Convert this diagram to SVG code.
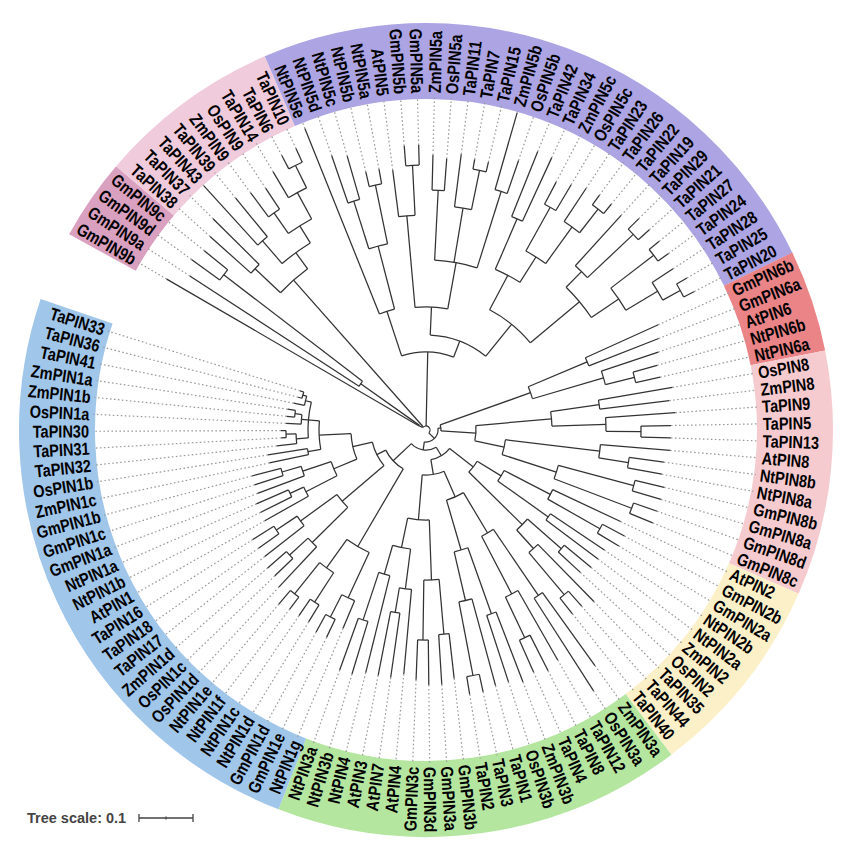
<svg xmlns="http://www.w3.org/2000/svg" width="851" height="851" viewBox="0 0 851 851">
<style>
.t{fill:none;stroke:#333;stroke-width:1.25}
.d{stroke:#999;stroke-width:1.2;stroke-dasharray:1.6 2.4}
.b{fill:none;stroke-width:76}
#labels text{font-family:"Liberation Sans",Arial,sans-serif;font-weight:bold;font-size:17.5px;fill:#000}
.l{text-anchor:end}
</style>
<rect width="851" height="851" fill="#fff"/>
<g transform="translate(426 430) rotate(210.2)">
<g id="bands">
<circle class="b" r="369" pathLength="360" stroke="#daa0c0" stroke-dasharray="11.67 999" transform="rotate(-1.46)"/>
<circle class="b" r="369" pathLength="360" stroke="#efcbdb" stroke-dasharray="26.25 999" transform="rotate(10.21)"/>
<circle class="b" r="369" pathLength="360" stroke="#aca4e3" stroke-dasharray="87.5 999" transform="rotate(36.46)"/>
<circle class="b" r="369" pathLength="360" stroke="#ea8487" stroke-dasharray="14.58 999" transform="rotate(123.96)"/>
<circle class="b" r="369" pathLength="360" stroke="#f6cbcf" stroke-dasharray="35 999" transform="rotate(138.54)"/>
<circle class="b" r="369" pathLength="360" stroke="#fcf0c8" stroke-dasharray="29.17 999" transform="rotate(173.54)"/>
<circle class="b" r="369" pathLength="360" stroke="#b5e6a0" stroke-dasharray="58.33 999" transform="rotate(202.71)"/>
<circle class="b" r="369" pathLength="360" stroke="#a0c6ea" stroke-dasharray="87.5 999" transform="rotate(261.04)"/>
</g>
<g id="connectors">
<g id="leaf-lines" class="d">
<line x1="300" x2="333" transform="rotate(0)"/>
<line x1="282" x2="333" transform="rotate(2.92)"/>
<line x1="290" x2="333" transform="rotate(5.83)"/>
<line x1="285" x2="333" transform="rotate(8.75)"/>
<line x1="290" x2="333" transform="rotate(11.67)"/>
<line x1="300" x2="333" transform="rotate(14.58)"/>
<line x1="330" x2="333" transform="rotate(17.5)"/>
<line x1="300" x2="333" transform="rotate(20.42)"/>
<line x1="295" x2="333" transform="rotate(23.33)"/>
<line x1="290" x2="333" transform="rotate(26.25)"/>
<line x1="300" x2="333" transform="rotate(29.17)"/>
<line x1="310" x2="333" transform="rotate(32.08)"/>
<line x1="310" x2="333" transform="rotate(35)"/>
<line x1="325" x2="333" transform="rotate(37.92)"/>
<line x1="290" x2="333" transform="rotate(40.83)"/>
<line x1="285" x2="333" transform="rotate(43.75)"/>
<line x1="265" x2="333" transform="rotate(46.67)"/>
<line x1="265" x2="333" transform="rotate(49.58)"/>
<line x1="262" x2="333" transform="rotate(52.5)"/>
<line x1="285" x2="333" transform="rotate(55.42)"/>
<line x1="285" x2="333" transform="rotate(58.33)"/>
<line x1="275" x2="333" transform="rotate(61.25)"/>
<line x1="272" x2="333" transform="rotate(64.17)"/>
<line x1="278" x2="333" transform="rotate(67.08)"/>
<line x1="275" x2="333" transform="rotate(70)"/>
<line x1="275" x2="333" transform="rotate(72.92)"/>
<line x1="330" x2="333" transform="rotate(75.83)"/>
<line x1="285" x2="333" transform="rotate(78.75)"/>
<line x1="300" x2="333" transform="rotate(81.67)"/>
<line x1="300" x2="333" transform="rotate(84.58)"/>
<line x1="280" x2="333" transform="rotate(87.5)"/>
<line x1="285" x2="333" transform="rotate(90.42)"/>
<line x1="290" x2="333" transform="rotate(93.33)"/>
<line x1="292" x2="333" transform="rotate(96.25)"/>
<line x1="292" x2="333" transform="rotate(99.17)"/>
<line x1="290" x2="333" transform="rotate(102.08)"/>
<line x1="300" x2="333" transform="rotate(105)"/>
<line x1="300" x2="333" transform="rotate(107.92)"/>
<line x1="300" x2="333" transform="rotate(110.83)"/>
<line x1="300" x2="333" transform="rotate(113.75)"/>
<line x1="295" x2="333" transform="rotate(116.67)"/>
<line x1="302" x2="333" transform="rotate(119.58)"/>
<line x1="302" x2="333" transform="rotate(122.5)"/>
<line x1="255" x2="333" transform="rotate(125.42)"/>
<line x1="250" x2="333" transform="rotate(128.33)"/>
<line x1="245" x2="333" transform="rotate(131.25)"/>
<line x1="240" x2="333" transform="rotate(134.17)"/>
<line x1="240" x2="333" transform="rotate(137.08)"/>
<line x1="250" x2="333" transform="rotate(140)"/>
<line x1="245" x2="333" transform="rotate(142.92)"/>
<line x1="250" x2="333" transform="rotate(145.83)"/>
<line x1="245" x2="333" transform="rotate(148.75)"/>
<line x1="245" x2="333" transform="rotate(151.67)"/>
<line x1="245" x2="333" transform="rotate(154.58)"/>
<line x1="240" x2="333" transform="rotate(157.5)"/>
<line x1="240" x2="333" transform="rotate(160.42)"/>
<line x1="245" x2="333" transform="rotate(163.33)"/>
<line x1="245" x2="333" transform="rotate(166.25)"/>
<line x1="245" x2="333" transform="rotate(169.17)"/>
<line x1="245" x2="333" transform="rotate(172.08)"/>
<line x1="215" x2="333" transform="rotate(175)"/>
<line x1="225" x2="333" transform="rotate(177.92)"/>
<line x1="225" x2="333" transform="rotate(180.83)"/>
<line x1="215" x2="333" transform="rotate(183.75)"/>
<line x1="215" x2="333" transform="rotate(186.67)"/>
<line x1="215" x2="333" transform="rotate(189.58)"/>
<line x1="210" x2="333" transform="rotate(192.5)"/>
<line x1="240" x2="333" transform="rotate(195.42)"/>
<line x1="235" x2="333" transform="rotate(198.33)"/>
<line x1="235" x2="333" transform="rotate(201.25)"/>
<line x1="290" x2="333" transform="rotate(204.17)"/>
<line x1="310" x2="333" transform="rotate(207.08)"/>
<line x1="265" x2="333" transform="rotate(210)"/>
<line x1="270" x2="333" transform="rotate(212.92)"/>
<line x1="265" x2="333" transform="rotate(215.83)"/>
<line x1="270" x2="333" transform="rotate(218.75)"/>
<line x1="265" x2="333" transform="rotate(221.67)"/>
<line x1="265" x2="333" transform="rotate(224.58)"/>
<line x1="268" x2="333" transform="rotate(227.5)"/>
<line x1="268" x2="333" transform="rotate(230.42)"/>
<line x1="250" x2="333" transform="rotate(233.33)"/>
<line x1="255" x2="333" transform="rotate(236.25)"/>
<line x1="255" x2="333" transform="rotate(239.17)"/>
<line x1="250" x2="333" transform="rotate(242.08)"/>
<line x1="245" x2="333" transform="rotate(245)"/>
<line x1="250" x2="333" transform="rotate(247.92)"/>
<line x1="250" x2="333" transform="rotate(250.83)"/>
<line x1="250" x2="333" transform="rotate(253.75)"/>
<line x1="255" x2="333" transform="rotate(256.67)"/>
<line x1="255" x2="333" transform="rotate(259.58)"/>
<line x1="215" x2="333" transform="rotate(262.5)"/>
<line x1="230" x2="333" transform="rotate(265.42)"/>
<line x1="230" x2="333" transform="rotate(268.33)"/>
<line x1="225" x2="333" transform="rotate(271.25)"/>
<line x1="225" x2="333" transform="rotate(274.17)"/>
<line x1="225" x2="333" transform="rotate(277.08)"/>
<line x1="228" x2="333" transform="rotate(280)"/>
<line x1="215" x2="333" transform="rotate(282.92)"/>
<line x1="210" x2="333" transform="rotate(285.83)"/>
<line x1="210" x2="333" transform="rotate(288.75)"/>
<line x1="205" x2="333" transform="rotate(291.67)"/>
<line x1="205" x2="333" transform="rotate(294.58)"/>
<line x1="205" x2="333" transform="rotate(297.5)"/>
<line x1="185" x2="333" transform="rotate(300.42)"/>
<line x1="185" x2="333" transform="rotate(303.33)"/>
<line x1="185" x2="333" transform="rotate(306.25)"/>
<line x1="180" x2="333" transform="rotate(309.17)"/>
<line x1="180" x2="333" transform="rotate(312.08)"/>
<line x1="180" x2="333" transform="rotate(315)"/>
<line x1="160" x2="333" transform="rotate(317.92)"/>
<line x1="160" x2="333" transform="rotate(320.83)"/>
<line x1="150" x2="333" transform="rotate(323.75)"/>
<line x1="145" x2="333" transform="rotate(326.67)"/>
<line x1="145" x2="333" transform="rotate(329.58)"/>
<line x1="140" x2="333" transform="rotate(332.5)"/>
<line x1="140" x2="333" transform="rotate(335.42)"/>
<line x1="140" x2="333" transform="rotate(338.33)"/>
<line x1="135" x2="333" transform="rotate(341.25)"/>
<line x1="132" x2="333" transform="rotate(344.17)"/>
<line x1="132" x2="333" transform="rotate(347.08)"/>
</g>
<g id="branches" class="t">
<circle r="255" pathLength="360" stroke-dasharray="2.92 999" transform="rotate(5.83)"/>
<circle r="80" pathLength="360" stroke-dasharray="4.37 999" transform="rotate(2.92)"/>
<circle r="8" pathLength="360" stroke-dasharray="5.1 999" transform="rotate(0)"/>
<circle r="235" pathLength="360" stroke-dasharray="2.91 999" transform="rotate(11.67)"/>
<circle r="250" pathLength="360" stroke-dasharray="2.92 999" transform="rotate(17.5)"/>
<circle r="265" pathLength="360" stroke-dasharray="2.92 999" transform="rotate(23.33)"/>
<circle r="295" pathLength="360" stroke-dasharray="2.92 999" transform="rotate(32.08)"/>
<circle r="270" pathLength="360" stroke-dasharray="4.37 999" transform="rotate(29.17)"/>
<circle r="240" pathLength="360" stroke-dasharray="6.56 999" transform="rotate(24.79)"/>
<circle r="220" pathLength="360" stroke-dasharray="9.11 999" transform="rotate(18.96)"/>
<circle r="200" pathLength="360" stroke-dasharray="10.38 999" transform="rotate(13.13)"/>
<circle r="5" pathLength="360" stroke-dasharray="15.77 999" transform="rotate(2.55)"/>
<circle r="240" pathLength="360" stroke-dasharray="2.92 999" transform="rotate(40.83)"/>
<circle r="250" pathLength="360" stroke-dasharray="2.91 999" transform="rotate(46.67)"/>
<circle r="190" pathLength="360" stroke-dasharray="5.84 999" transform="rotate(42.29)"/>
<circle r="125" pathLength="360" stroke-dasharray="7.29 999" transform="rotate(37.92)"/>
<circle r="265" pathLength="360" stroke-dasharray="2.91 999" transform="rotate(55.42)"/>
<circle r="215" pathLength="360" stroke-dasharray="4.38 999" transform="rotate(52.5)"/>
<circle r="240" pathLength="360" stroke-dasharray="2.92 999" transform="rotate(61.25)"/>
<circle r="265" pathLength="360" stroke-dasharray="2.92 999" transform="rotate(70)"/>
<circle r="225" pathLength="360" stroke-dasharray="4.38 999" transform="rotate(67.08)"/>
<circle r="250" pathLength="360" stroke-dasharray="2.92 999" transform="rotate(75.83)"/>
<circle r="170" pathLength="360" stroke-dasharray="14.58 999" transform="rotate(62.71)"/>
<circle r="123" pathLength="360" stroke-dasharray="15.31 999" transform="rotate(54.69)"/>
<circle r="230" pathLength="360" stroke-dasharray="2.91 999" transform="rotate(81.67)"/>
<circle r="255" pathLength="360" stroke-dasharray="2.92 999" transform="rotate(87.5)"/>
<circle r="280" pathLength="360" stroke-dasharray="2.92 999" transform="rotate(96.25)"/>
<circle r="250" pathLength="360" stroke-dasharray="4.38 999" transform="rotate(93.33)"/>
<circle r="205" pathLength="360" stroke-dasharray="6.56 999" transform="rotate(88.96)"/>
<circle r="175" pathLength="360" stroke-dasharray="9.11 999" transform="rotate(83.13)"/>
<circle r="285" pathLength="360" stroke-dasharray="2.92 999" transform="rotate(105)"/>
<circle r="222" pathLength="360" stroke-dasharray="4.38 999" transform="rotate(102.08)"/>
<circle r="287" pathLength="360" stroke-dasharray="2.92 999" transform="rotate(110.83)"/>
<circle r="290" pathLength="360" stroke-dasharray="2.92 999" transform="rotate(119.58)"/>
<circle r="270" pathLength="360" stroke-dasharray="4.37 999" transform="rotate(116.67)"/>
<circle r="233" pathLength="360" stroke-dasharray="6.57 999" transform="rotate(112.29)"/>
<circle r="200" pathLength="360" stroke-dasharray="11.31 999" transform="rotate(104.27)"/>
<circle r="136" pathLength="360" stroke-dasharray="22.24 999" transform="rotate(87.69)"/>
<circle r="95" pathLength="360" stroke-dasharray="36.46 999" transform="rotate(62.35)"/>
<circle r="78" pathLength="360" stroke-dasharray="39.01 999" transform="rotate(41.57)"/>
<circle r="175" pathLength="360" stroke-dasharray="2.91 999" transform="rotate(125.42)"/>
<circle r="215" pathLength="360" stroke-dasharray="2.91 999" transform="rotate(134.17)"/>
<circle r="185" pathLength="360" stroke-dasharray="4.38 999" transform="rotate(131.25)"/>
<circle r="111" pathLength="360" stroke-dasharray="6.56 999" transform="rotate(126.88)"/>
<circle r="175" pathLength="360" stroke-dasharray="2.92 999" transform="rotate(140)"/>
<circle r="215" pathLength="360" stroke-dasharray="2.92 999" transform="rotate(148.75)"/>
<circle r="180" pathLength="360" stroke-dasharray="4.38 999" transform="rotate(145.83)"/>
<circle r="126" pathLength="360" stroke-dasharray="6.56 999" transform="rotate(141.46)"/>
<circle r="205" pathLength="360" stroke-dasharray="2.92 999" transform="rotate(157.5)"/>
<circle r="175" pathLength="360" stroke-dasharray="4.38 999" transform="rotate(154.58)"/>
<circle r="215" pathLength="360" stroke-dasharray="2.92 999" transform="rotate(163.33)"/>
<circle r="220" pathLength="360" stroke-dasharray="2.91 999" transform="rotate(169.17)"/>
<circle r="137" pathLength="360" stroke-dasharray="5.84 999" transform="rotate(164.79)"/>
<circle r="80" pathLength="360" stroke-dasharray="10.94 999" transform="rotate(156.77)"/>
<circle r="50" pathLength="360" stroke-dasharray="17.5 999" transform="rotate(144.74)"/>
<circle r="15" pathLength="360" stroke-dasharray="23.33 999" transform="rotate(130.16)"/>
<circle r="200" pathLength="360" stroke-dasharray="2.91 999" transform="rotate(177.92)"/>
<circle r="140" pathLength="360" stroke-dasharray="4.38 999" transform="rotate(175)"/>
<circle r="150" pathLength="360" stroke-dasharray="2.92 999" transform="rotate(183.75)"/>
<circle r="88" pathLength="360" stroke-dasharray="8.02 999" transform="rotate(177.19)"/>
<circle r="180" pathLength="360" stroke-dasharray="2.92 999" transform="rotate(189.58)"/>
<circle r="215" pathLength="360" stroke-dasharray="2.92 999" transform="rotate(198.33)"/>
<circle r="160" pathLength="360" stroke-dasharray="4.37 999" transform="rotate(195.42)"/>
<circle r="135" pathLength="360" stroke-dasharray="6.56 999" transform="rotate(191.04)"/>
<circle r="60" pathLength="360" stroke-dasharray="13.12 999" transform="rotate(181.2)"/>
<circle r="200" pathLength="360" stroke-dasharray="2.91 999" transform="rotate(204.17)"/>
<circle r="230" pathLength="360" stroke-dasharray="2.91 999" transform="rotate(212.92)"/>
<circle r="185" pathLength="360" stroke-dasharray="4.38 999" transform="rotate(210)"/>
<circle r="120" pathLength="360" stroke-dasharray="6.56 999" transform="rotate(205.63)"/>
<circle r="195" pathLength="360" stroke-dasharray="2.92 999" transform="rotate(218.75)"/>
<circle r="250" pathLength="360" stroke-dasharray="2.92 999" transform="rotate(227.5)"/>
<circle r="175" pathLength="360" stroke-dasharray="4.38 999" transform="rotate(224.58)"/>
<circle r="125" pathLength="360" stroke-dasharray="6.56 999" transform="rotate(220.21)"/>
<circle r="73" pathLength="360" stroke-dasharray="14.58 999" transform="rotate(208.91)"/>
<circle r="205" pathLength="360" stroke-dasharray="2.92 999" transform="rotate(233.33)"/>
<circle r="210" pathLength="360" stroke-dasharray="2.91 999" transform="rotate(239.17)"/>
<circle r="150" pathLength="360" stroke-dasharray="5.84 999" transform="rotate(234.79)"/>
<circle r="185" pathLength="360" stroke-dasharray="2.91 999" transform="rotate(247.92)"/>
<circle r="160" pathLength="360" stroke-dasharray="4.38 999" transform="rotate(245)"/>
<circle r="200" pathLength="360" stroke-dasharray="2.91 999" transform="rotate(256.67)"/>
<circle r="150" pathLength="360" stroke-dasharray="4.38 999" transform="rotate(253.75)"/>
<circle r="120" pathLength="360" stroke-dasharray="8.75 999" transform="rotate(247.19)"/>
<circle r="90" pathLength="360" stroke-dasharray="13.86 999" transform="rotate(237.71)"/>
<circle r="45" pathLength="360" stroke-dasharray="28.44 999" transform="rotate(216.2)"/>
<circle r="30" pathLength="360" stroke-dasharray="42.66 999" transform="rotate(187.76)"/>
<circle r="210" pathLength="360" stroke-dasharray="2.91 999" transform="rotate(265.42)"/>
<circle r="185" pathLength="360" stroke-dasharray="4.38 999" transform="rotate(262.5)"/>
<circle r="205" pathLength="360" stroke-dasharray="2.92 999" transform="rotate(271.25)"/>
<circle r="210" pathLength="360" stroke-dasharray="2.92 999" transform="rotate(277.08)"/>
<circle r="170" pathLength="360" stroke-dasharray="5.83 999" transform="rotate(272.71)"/>
<circle r="135" pathLength="360" stroke-dasharray="10.94 999" transform="rotate(264.69)"/>
<circle r="185" pathLength="360" stroke-dasharray="2.92 999" transform="rotate(285.83)"/>
<circle r="160" pathLength="360" stroke-dasharray="4.37 999" transform="rotate(282.92)"/>
<circle r="180" pathLength="360" stroke-dasharray="2.92 999" transform="rotate(294.58)"/>
<circle r="155" pathLength="360" stroke-dasharray="4.37 999" transform="rotate(291.67)"/>
<circle r="110" pathLength="360" stroke-dasharray="8.75 999" transform="rotate(285.11)"/>
<circle r="150" pathLength="360" stroke-dasharray="2.92 999" transform="rotate(303.33)"/>
<circle r="135" pathLength="360" stroke-dasharray="4.37 999" transform="rotate(300.42)"/>
<circle r="150" pathLength="360" stroke-dasharray="2.92 999" transform="rotate(312.08)"/>
<circle r="130" pathLength="360" stroke-dasharray="4.37 999" transform="rotate(309.17)"/>
<circle r="100" pathLength="360" stroke-dasharray="8.75 999" transform="rotate(302.61)"/>
<circle r="120" pathLength="360" stroke-dasharray="2.91 999" transform="rotate(317.92)"/>
<circle r="140" pathLength="360" stroke-dasharray="2.91 999" transform="rotate(326.67)"/>
<circle r="130" pathLength="360" stroke-dasharray="4.38 999" transform="rotate(323.75)"/>
<circle r="132" pathLength="360" stroke-dasharray="2.91 999" transform="rotate(335.42)"/>
<circle r="125" pathLength="360" stroke-dasharray="4.38 999" transform="rotate(332.5)"/>
<circle r="128" pathLength="360" stroke-dasharray="2.91 999" transform="rotate(344.17)"/>
<circle r="124" pathLength="360" stroke-dasharray="4.38 999" transform="rotate(341.25)"/>
<circle r="118" pathLength="360" stroke-dasharray="17.5 999" transform="rotate(325.94)"/>
<circle r="107" pathLength="360" stroke-dasharray="15.31 999" transform="rotate(319.38)"/>
<circle r="75" pathLength="360" stroke-dasharray="20.05 999" transform="rotate(306.99)"/>
<circle r="55" pathLength="360" stroke-dasharray="27.53 999" transform="rotate(289.49)"/>
<circle r="45" pathLength="360" stroke-dasharray="33.1 999" transform="rotate(270.16)"/>
<circle r="20" pathLength="360" stroke-dasharray="77.62 999" transform="rotate(209.09)"/>
<circle r="12" pathLength="360" stroke-dasharray="106.07 999" transform="rotate(141.83)"/>
<circle r="4" pathLength="360" stroke-dasharray="184.44 999" transform="rotate(10.43)"/>
<line x1="255" x2="290" transform="rotate(5.83)"/>
<line x1="255" x2="285" transform="rotate(8.75)"/>
<line x1="80" x2="282" transform="rotate(2.92)"/>
<line x1="80" x2="255" transform="rotate(7.29)"/>
<line x1="8" x2="300" transform="rotate(0)"/>
<line x1="8" x2="80" transform="rotate(5.1)"/>
<line x1="235" x2="290" transform="rotate(11.67)"/>
<line x1="235" x2="300" transform="rotate(14.58)"/>
<line x1="250" x2="330" transform="rotate(17.5)"/>
<line x1="250" x2="300" transform="rotate(20.42)"/>
<line x1="265" x2="295" transform="rotate(23.33)"/>
<line x1="265" x2="290" transform="rotate(26.25)"/>
<line x1="295" x2="310" transform="rotate(32.08)"/>
<line x1="295" x2="310" transform="rotate(35)"/>
<line x1="270" x2="300" transform="rotate(29.17)"/>
<line x1="270" x2="295" transform="rotate(33.54)"/>
<line x1="240" x2="265" transform="rotate(24.79)"/>
<line x1="240" x2="270" transform="rotate(31.35)"/>
<line x1="220" x2="250" transform="rotate(18.96)"/>
<line x1="220" x2="240" transform="rotate(28.07)"/>
<line x1="200" x2="235" transform="rotate(13.13)"/>
<line x1="200" x2="220" transform="rotate(23.51)"/>
<line x1="5" x2="8" transform="rotate(2.55)"/>
<line x1="5" x2="200" transform="rotate(18.32)"/>
<line x1="240" x2="290" transform="rotate(40.83)"/>
<line x1="240" x2="285" transform="rotate(43.75)"/>
<line x1="250" x2="265" transform="rotate(46.67)"/>
<line x1="250" x2="265" transform="rotate(49.58)"/>
<line x1="190" x2="240" transform="rotate(42.29)"/>
<line x1="190" x2="250" transform="rotate(48.13)"/>
<line x1="125" x2="325" transform="rotate(37.92)"/>
<line x1="125" x2="190" transform="rotate(45.21)"/>
<line x1="265" x2="285" transform="rotate(55.42)"/>
<line x1="265" x2="285" transform="rotate(58.33)"/>
<line x1="215" x2="262" transform="rotate(52.5)"/>
<line x1="215" x2="265" transform="rotate(56.88)"/>
<line x1="240" x2="275" transform="rotate(61.25)"/>
<line x1="240" x2="272" transform="rotate(64.17)"/>
<line x1="265" x2="275" transform="rotate(70)"/>
<line x1="265" x2="275" transform="rotate(72.92)"/>
<line x1="225" x2="278" transform="rotate(67.08)"/>
<line x1="225" x2="265" transform="rotate(71.46)"/>
<line x1="250" x2="330" transform="rotate(75.83)"/>
<line x1="250" x2="285" transform="rotate(78.75)"/>
<line x1="170" x2="240" transform="rotate(62.71)"/>
<line x1="170" x2="225" transform="rotate(69.27)"/>
<line x1="170" x2="250" transform="rotate(77.29)"/>
<line x1="123" x2="215" transform="rotate(54.69)"/>
<line x1="123" x2="170" transform="rotate(70)"/>
<line x1="230" x2="300" transform="rotate(81.67)"/>
<line x1="230" x2="300" transform="rotate(84.58)"/>
<line x1="255" x2="280" transform="rotate(87.5)"/>
<line x1="255" x2="285" transform="rotate(90.42)"/>
<line x1="280" x2="292" transform="rotate(96.25)"/>
<line x1="280" x2="292" transform="rotate(99.17)"/>
<line x1="250" x2="290" transform="rotate(93.33)"/>
<line x1="250" x2="280" transform="rotate(97.71)"/>
<line x1="205" x2="255" transform="rotate(88.96)"/>
<line x1="205" x2="250" transform="rotate(95.52)"/>
<line x1="175" x2="230" transform="rotate(83.13)"/>
<line x1="175" x2="205" transform="rotate(92.24)"/>
<line x1="285" x2="300" transform="rotate(105)"/>
<line x1="285" x2="300" transform="rotate(107.92)"/>
<line x1="222" x2="290" transform="rotate(102.08)"/>
<line x1="222" x2="285" transform="rotate(106.46)"/>
<line x1="287" x2="300" transform="rotate(110.83)"/>
<line x1="287" x2="300" transform="rotate(113.75)"/>
<line x1="290" x2="302" transform="rotate(119.58)"/>
<line x1="290" x2="302" transform="rotate(122.5)"/>
<line x1="270" x2="295" transform="rotate(116.67)"/>
<line x1="270" x2="290" transform="rotate(121.04)"/>
<line x1="233" x2="287" transform="rotate(112.29)"/>
<line x1="233" x2="270" transform="rotate(118.86)"/>
<line x1="200" x2="222" transform="rotate(104.27)"/>
<line x1="200" x2="233" transform="rotate(115.58)"/>
<line x1="136" x2="175" transform="rotate(87.69)"/>
<line x1="136" x2="200" transform="rotate(109.93)"/>
<line x1="95" x2="123" transform="rotate(62.35)"/>
<line x1="95" x2="136" transform="rotate(98.81)"/>
<line x1="78" x2="125" transform="rotate(41.57)"/>
<line x1="78" x2="95" transform="rotate(80.58)"/>
<line x1="175" x2="255" transform="rotate(125.42)"/>
<line x1="175" x2="250" transform="rotate(128.33)"/>
<line x1="215" x2="240" transform="rotate(134.17)"/>
<line x1="215" x2="240" transform="rotate(137.08)"/>
<line x1="185" x2="245" transform="rotate(131.25)"/>
<line x1="185" x2="215" transform="rotate(135.63)"/>
<line x1="111" x2="175" transform="rotate(126.88)"/>
<line x1="111" x2="185" transform="rotate(133.44)"/>
<line x1="175" x2="250" transform="rotate(140)"/>
<line x1="175" x2="245" transform="rotate(142.92)"/>
<line x1="215" x2="245" transform="rotate(148.75)"/>
<line x1="215" x2="245" transform="rotate(151.67)"/>
<line x1="180" x2="250" transform="rotate(145.83)"/>
<line x1="180" x2="215" transform="rotate(150.21)"/>
<line x1="126" x2="175" transform="rotate(141.46)"/>
<line x1="126" x2="180" transform="rotate(148.02)"/>
<line x1="205" x2="240" transform="rotate(157.5)"/>
<line x1="205" x2="240" transform="rotate(160.42)"/>
<line x1="175" x2="245" transform="rotate(154.58)"/>
<line x1="175" x2="205" transform="rotate(158.96)"/>
<line x1="215" x2="245" transform="rotate(163.33)"/>
<line x1="215" x2="245" transform="rotate(166.25)"/>
<line x1="220" x2="245" transform="rotate(169.17)"/>
<line x1="220" x2="245" transform="rotate(172.08)"/>
<line x1="137" x2="215" transform="rotate(164.79)"/>
<line x1="137" x2="220" transform="rotate(170.63)"/>
<line x1="80" x2="175" transform="rotate(156.77)"/>
<line x1="80" x2="137" transform="rotate(167.71)"/>
<line x1="50" x2="126" transform="rotate(144.74)"/>
<line x1="50" x2="80" transform="rotate(162.24)"/>
<line x1="15" x2="111" transform="rotate(130.16)"/>
<line x1="15" x2="50" transform="rotate(153.49)"/>
<line x1="200" x2="225" transform="rotate(177.92)"/>
<line x1="200" x2="225" transform="rotate(180.83)"/>
<line x1="140" x2="215" transform="rotate(175)"/>
<line x1="140" x2="200" transform="rotate(179.38)"/>
<line x1="150" x2="215" transform="rotate(183.75)"/>
<line x1="150" x2="215" transform="rotate(186.67)"/>
<line x1="88" x2="140" transform="rotate(177.19)"/>
<line x1="88" x2="150" transform="rotate(185.21)"/>
<line x1="180" x2="215" transform="rotate(189.58)"/>
<line x1="180" x2="210" transform="rotate(192.5)"/>
<line x1="215" x2="235" transform="rotate(198.33)"/>
<line x1="215" x2="235" transform="rotate(201.25)"/>
<line x1="160" x2="240" transform="rotate(195.42)"/>
<line x1="160" x2="215" transform="rotate(199.79)"/>
<line x1="135" x2="180" transform="rotate(191.04)"/>
<line x1="135" x2="160" transform="rotate(197.6)"/>
<line x1="60" x2="88" transform="rotate(181.2)"/>
<line x1="60" x2="135" transform="rotate(194.32)"/>
<line x1="200" x2="290" transform="rotate(204.17)"/>
<line x1="200" x2="310" transform="rotate(207.08)"/>
<line x1="230" x2="270" transform="rotate(212.92)"/>
<line x1="230" x2="265" transform="rotate(215.83)"/>
<line x1="185" x2="265" transform="rotate(210)"/>
<line x1="185" x2="230" transform="rotate(214.38)"/>
<line x1="120" x2="200" transform="rotate(205.63)"/>
<line x1="120" x2="185" transform="rotate(212.19)"/>
<line x1="195" x2="270" transform="rotate(218.75)"/>
<line x1="195" x2="265" transform="rotate(221.67)"/>
<line x1="250" x2="268" transform="rotate(227.5)"/>
<line x1="250" x2="268" transform="rotate(230.42)"/>
<line x1="175" x2="265" transform="rotate(224.58)"/>
<line x1="175" x2="250" transform="rotate(228.96)"/>
<line x1="125" x2="195" transform="rotate(220.21)"/>
<line x1="125" x2="175" transform="rotate(226.77)"/>
<line x1="73" x2="120" transform="rotate(208.91)"/>
<line x1="73" x2="125" transform="rotate(223.49)"/>
<line x1="205" x2="250" transform="rotate(233.33)"/>
<line x1="205" x2="255" transform="rotate(236.25)"/>
<line x1="210" x2="255" transform="rotate(239.17)"/>
<line x1="210" x2="250" transform="rotate(242.08)"/>
<line x1="150" x2="205" transform="rotate(234.79)"/>
<line x1="150" x2="210" transform="rotate(240.63)"/>
<line x1="185" x2="250" transform="rotate(247.92)"/>
<line x1="185" x2="250" transform="rotate(250.83)"/>
<line x1="160" x2="245" transform="rotate(245)"/>
<line x1="160" x2="185" transform="rotate(249.38)"/>
<line x1="200" x2="255" transform="rotate(256.67)"/>
<line x1="200" x2="255" transform="rotate(259.58)"/>
<line x1="150" x2="250" transform="rotate(253.75)"/>
<line x1="150" x2="200" transform="rotate(258.13)"/>
<line x1="120" x2="160" transform="rotate(247.19)"/>
<line x1="120" x2="150" transform="rotate(255.94)"/>
<line x1="90" x2="150" transform="rotate(237.71)"/>
<line x1="90" x2="120" transform="rotate(251.57)"/>
<line x1="45" x2="73" transform="rotate(216.2)"/>
<line x1="45" x2="90" transform="rotate(244.64)"/>
<line x1="30" x2="60" transform="rotate(187.76)"/>
<line x1="30" x2="45" transform="rotate(230.42)"/>
<line x1="210" x2="230" transform="rotate(265.42)"/>
<line x1="210" x2="230" transform="rotate(268.33)"/>
<line x1="185" x2="215" transform="rotate(262.5)"/>
<line x1="185" x2="210" transform="rotate(266.88)"/>
<line x1="205" x2="225" transform="rotate(271.25)"/>
<line x1="205" x2="225" transform="rotate(274.17)"/>
<line x1="210" x2="225" transform="rotate(277.08)"/>
<line x1="210" x2="228" transform="rotate(280)"/>
<line x1="170" x2="205" transform="rotate(272.71)"/>
<line x1="170" x2="210" transform="rotate(278.54)"/>
<line x1="135" x2="185" transform="rotate(264.69)"/>
<line x1="135" x2="170" transform="rotate(275.63)"/>
<line x1="185" x2="210" transform="rotate(285.83)"/>
<line x1="185" x2="210" transform="rotate(288.75)"/>
<line x1="160" x2="215" transform="rotate(282.92)"/>
<line x1="160" x2="185" transform="rotate(287.29)"/>
<line x1="180" x2="205" transform="rotate(294.58)"/>
<line x1="180" x2="205" transform="rotate(297.5)"/>
<line x1="155" x2="205" transform="rotate(291.67)"/>
<line x1="155" x2="180" transform="rotate(296.04)"/>
<line x1="110" x2="160" transform="rotate(285.11)"/>
<line x1="110" x2="155" transform="rotate(293.86)"/>
<line x1="150" x2="185" transform="rotate(303.33)"/>
<line x1="150" x2="185" transform="rotate(306.25)"/>
<line x1="135" x2="185" transform="rotate(300.42)"/>
<line x1="135" x2="150" transform="rotate(304.79)"/>
<line x1="150" x2="180" transform="rotate(312.08)"/>
<line x1="150" x2="180" transform="rotate(315)"/>
<line x1="130" x2="180" transform="rotate(309.17)"/>
<line x1="130" x2="150" transform="rotate(313.54)"/>
<line x1="100" x2="135" transform="rotate(302.61)"/>
<line x1="100" x2="130" transform="rotate(311.36)"/>
<line x1="120" x2="160" transform="rotate(317.92)"/>
<line x1="120" x2="160" transform="rotate(320.83)"/>
<line x1="140" x2="145" transform="rotate(326.67)"/>
<line x1="140" x2="145" transform="rotate(329.58)"/>
<line x1="130" x2="150" transform="rotate(323.75)"/>
<line x1="130" x2="140" transform="rotate(328.13)"/>
<line x1="132" x2="140" transform="rotate(335.42)"/>
<line x1="132" x2="140" transform="rotate(338.33)"/>
<line x1="125" x2="140" transform="rotate(332.5)"/>
<line x1="125" x2="132" transform="rotate(336.88)"/>
<line x1="128" x2="132" transform="rotate(344.17)"/>
<line x1="128" x2="132" transform="rotate(347.08)"/>
<line x1="124" x2="135" transform="rotate(341.25)"/>
<line x1="124" x2="128" transform="rotate(345.63)"/>
<line x1="118" x2="130" transform="rotate(325.94)"/>
<line x1="107" x2="125" transform="rotate(334.69)"/>
<line x1="118" x2="124" transform="rotate(343.44)"/>
<line x1="107" x2="120" transform="rotate(319.38)"/>
<line x1="75" x2="100" transform="rotate(306.99)"/>
<line x1="75" x2="107" transform="rotate(327.04)"/>
<line x1="55" x2="110" transform="rotate(289.49)"/>
<line x1="55" x2="75" transform="rotate(317.02)"/>
<line x1="45" x2="135" transform="rotate(270.16)"/>
<line x1="45" x2="55" transform="rotate(303.26)"/>
<line x1="20" x2="30" transform="rotate(209.09)"/>
<line x1="20" x2="45" transform="rotate(286.71)"/>
<line x1="12" x2="15" transform="rotate(141.83)"/>
<line x1="12" x2="20" transform="rotate(247.9)"/>
<line x1="4" x2="5" transform="rotate(10.43)"/>
<line x1="4" x2="78" transform="rotate(61.08)"/>
<line x1="4" x2="12" transform="rotate(194.87)"/>
</g>
</g>
<g id="labels">
<g id="GmPIN9b"><text class="l" dy=".35em" transform="rotate(0) translate(337 0) rotate(180) scale(.83 1)">GmPIN9b</text></g>
<g id="GmPIN9a"><text class="l" dy=".35em" transform="rotate(2.92) translate(337 0) rotate(180) scale(.83 1)">GmPIN9a</text></g>
<g id="GmPIN9d"><text class="l" dy=".35em" transform="rotate(5.83) translate(337 0) rotate(180) scale(.83 1)">GmPIN9d</text></g>
<g id="GmPIN9c"><text class="l" dy=".35em" transform="rotate(8.75) translate(337 0) rotate(180) scale(.83 1)">GmPIN9c</text></g>
<g id="TaPIN38"><text class="l" dy=".35em" transform="rotate(11.67) translate(337 0) rotate(180) scale(.83 1)">TaPIN38</text></g>
<g id="TaPIN37"><text class="l" dy=".35em" transform="rotate(14.58) translate(337 0) rotate(180) scale(.83 1)">TaPIN37</text></g>
<g id="TaPIN43"><text class="l" dy=".35em" transform="rotate(17.5) translate(337 0) rotate(180) scale(.83 1)">TaPIN43</text></g>
<g id="TaPIN39"><text class="l" dy=".35em" transform="rotate(20.42) translate(337 0) rotate(180) scale(.83 1)">TaPIN39</text></g>
<g id="ZmPIN9"><text class="l" dy=".35em" transform="rotate(23.33) translate(337 0) rotate(180) scale(.83 1)">ZmPIN9</text></g>
<g id="OsPIN9"><text class="l" dy=".35em" transform="rotate(26.25) translate(337 0) rotate(180) scale(.83 1)">OsPIN9</text></g>
<g id="TaPIN14"><text class="l" dy=".35em" transform="rotate(29.17) translate(337 0) rotate(180) scale(.83 1)">TaPIN14</text></g>
<g id="TaPIN6"><text class="l" dy=".35em" transform="rotate(32.08) translate(337 0) rotate(180) scale(.83 1)">TaPIN6</text></g>
<g id="TaPIN10"><text class="l" dy=".35em" transform="rotate(35) translate(337 0) rotate(180) scale(.83 1)">TaPIN10</text></g>
<g id="NtPIN5e"><text class="l" dy=".35em" transform="rotate(37.92) translate(337 0) rotate(180) scale(.83 1)">NtPIN5e</text></g>
<g id="NtPIN5d"><text class="l" dy=".35em" transform="rotate(40.83) translate(337 0) rotate(180) scale(.83 1)">NtPIN5d</text></g>
<g id="NtPIN5c"><text class="l" dy=".35em" transform="rotate(43.75) translate(337 0) rotate(180) scale(.83 1)">NtPIN5c</text></g>
<g id="NtPIN5b"><text class="l" dy=".35em" transform="rotate(46.67) translate(337 0) rotate(180) scale(.83 1)">NtPIN5b</text></g>
<g id="NtPIN5a"><text class="l" dy=".35em" transform="rotate(49.58) translate(337 0) rotate(180) scale(.83 1)">NtPIN5a</text></g>
<g id="AtPIN5"><text class="l" dy=".35em" transform="rotate(52.5) translate(337 0) rotate(180) scale(.83 1)">AtPIN5</text></g>
<g id="GmPIN5b"><text class="l" dy=".35em" transform="rotate(55.42) translate(337 0) rotate(180) scale(.83 1)">GmPIN5b</text></g>
<g id="GmPIN5a"><text class="l" dy=".35em" transform="rotate(58.33) translate(337 0) rotate(180) scale(.83 1)">GmPIN5a</text></g>
<g id="ZmPIN5a"><text dy=".35em" transform="rotate(61.25) translate(337 0) scale(.83 1)">ZmPIN5a</text></g>
<g id="OsPIN5a"><text dy=".35em" transform="rotate(64.17) translate(337 0) scale(.83 1)">OsPIN5a</text></g>
<g id="TaPIN11"><text dy=".35em" transform="rotate(67.08) translate(337 0) scale(.83 1)">TaPIN11</text></g>
<g id="TaPIN7"><text dy=".35em" transform="rotate(70) translate(337 0) scale(.83 1)">TaPIN7</text></g>
<g id="TaPIN15"><text dy=".35em" transform="rotate(72.92) translate(337 0) scale(.83 1)">TaPIN15</text></g>
<g id="ZmPIN5b"><text dy=".35em" transform="rotate(75.83) translate(337 0) scale(.83 1)">ZmPIN5b</text></g>
<g id="OsPIN5b"><text dy=".35em" transform="rotate(78.75) translate(337 0) scale(.83 1)">OsPIN5b</text></g>
<g id="TaPIN42"><text dy=".35em" transform="rotate(81.67) translate(337 0) scale(.83 1)">TaPIN42</text></g>
<g id="TaPIN34"><text dy=".35em" transform="rotate(84.58) translate(337 0) scale(.83 1)">TaPIN34</text></g>
<g id="ZmPIN5c"><text dy=".35em" transform="rotate(87.5) translate(337 0) scale(.83 1)">ZmPIN5c</text></g>
<g id="OsPIN5c"><text dy=".35em" transform="rotate(90.42) translate(337 0) scale(.83 1)">OsPIN5c</text></g>
<g id="TaPIN23"><text dy=".35em" transform="rotate(93.33) translate(337 0) scale(.83 1)">TaPIN23</text></g>
<g id="TaPIN26"><text dy=".35em" transform="rotate(96.25) translate(337 0) scale(.83 1)">TaPIN26</text></g>
<g id="TaPIN22"><text dy=".35em" transform="rotate(99.17) translate(337 0) scale(.83 1)">TaPIN22</text></g>
<g id="TaPIN19"><text dy=".35em" transform="rotate(102.08) translate(337 0) scale(.83 1)">TaPIN19</text></g>
<g id="TaPIN29"><text dy=".35em" transform="rotate(105) translate(337 0) scale(.83 1)">TaPIN29</text></g>
<g id="TaPIN21"><text dy=".35em" transform="rotate(107.92) translate(337 0) scale(.83 1)">TaPIN21</text></g>
<g id="TaPIN27"><text dy=".35em" transform="rotate(110.83) translate(337 0) scale(.83 1)">TaPIN27</text></g>
<g id="TaPIN24"><text dy=".35em" transform="rotate(113.75) translate(337 0) scale(.83 1)">TaPIN24</text></g>
<g id="TaPIN28"><text dy=".35em" transform="rotate(116.67) translate(337 0) scale(.83 1)">TaPIN28</text></g>
<g id="TaPIN25"><text dy=".35em" transform="rotate(119.58) translate(337 0) scale(.83 1)">TaPIN25</text></g>
<g id="TaPIN20"><text dy=".35em" transform="rotate(122.5) translate(337 0) scale(.83 1)">TaPIN20</text></g>
<g id="GmPIN6b"><text dy=".35em" transform="rotate(125.42) translate(337 0) scale(.83 1)">GmPIN6b</text></g>
<g id="GmPIN6a"><text dy=".35em" transform="rotate(128.33) translate(337 0) scale(.83 1)">GmPIN6a</text></g>
<g id="AtPIN6"><text dy=".35em" transform="rotate(131.25) translate(337 0) scale(.83 1)">AtPIN6</text></g>
<g id="NtPIN6b"><text dy=".35em" transform="rotate(134.17) translate(337 0) scale(.83 1)">NtPIN6b</text></g>
<g id="NtPIN6a"><text dy=".35em" transform="rotate(137.08) translate(337 0) scale(.83 1)">NtPIN6a</text></g>
<g id="OsPIN8"><text dy=".35em" transform="rotate(140) translate(337 0) scale(.83 1)">OsPIN8</text></g>
<g id="ZmPIN8"><text dy=".35em" transform="rotate(142.92) translate(337 0) scale(.83 1)">ZmPIN8</text></g>
<g id="TaPIN9"><text dy=".35em" transform="rotate(145.83) translate(337 0) scale(.83 1)">TaPIN9</text></g>
<g id="TaPIN5"><text dy=".35em" transform="rotate(148.75) translate(337 0) scale(.83 1)">TaPIN5</text></g>
<g id="TaPIN13"><text dy=".35em" transform="rotate(151.67) translate(337 0) scale(.83 1)">TaPIN13</text></g>
<g id="AtPIN8"><text dy=".35em" transform="rotate(154.58) translate(337 0) scale(.83 1)">AtPIN8</text></g>
<g id="NtPIN8b"><text dy=".35em" transform="rotate(157.5) translate(337 0) scale(.83 1)">NtPIN8b</text></g>
<g id="NtPIN8a"><text dy=".35em" transform="rotate(160.42) translate(337 0) scale(.83 1)">NtPIN8a</text></g>
<g id="GmPIN8b"><text dy=".35em" transform="rotate(163.33) translate(337 0) scale(.83 1)">GmPIN8b</text></g>
<g id="GmPIN8a"><text dy=".35em" transform="rotate(166.25) translate(337 0) scale(.83 1)">GmPIN8a</text></g>
<g id="GmPIN8d"><text dy=".35em" transform="rotate(169.17) translate(337 0) scale(.83 1)">GmPIN8d</text></g>
<g id="GmPIN8c"><text dy=".35em" transform="rotate(172.08) translate(337 0) scale(.83 1)">GmPIN8c</text></g>
<g id="AtPIN2"><text dy=".35em" transform="rotate(175) translate(337 0) scale(.83 1)">AtPIN2</text></g>
<g id="GmPIN2b"><text dy=".35em" transform="rotate(177.92) translate(337 0) scale(.83 1)">GmPIN2b</text></g>
<g id="GmPIN2a"><text dy=".35em" transform="rotate(180.83) translate(337 0) scale(.83 1)">GmPIN2a</text></g>
<g id="NtPIN2b"><text dy=".35em" transform="rotate(183.75) translate(337 0) scale(.83 1)">NtPIN2b</text></g>
<g id="NtPIN2a"><text dy=".35em" transform="rotate(186.67) translate(337 0) scale(.83 1)">NtPIN2a</text></g>
<g id="ZmPIN2"><text dy=".35em" transform="rotate(189.58) translate(337 0) scale(.83 1)">ZmPIN2</text></g>
<g id="OsPIN2"><text dy=".35em" transform="rotate(192.5) translate(337 0) scale(.83 1)">OsPIN2</text></g>
<g id="TaPIN35"><text dy=".35em" transform="rotate(195.42) translate(337 0) scale(.83 1)">TaPIN35</text></g>
<g id="TaPIN44"><text dy=".35em" transform="rotate(198.33) translate(337 0) scale(.83 1)">TaPIN44</text></g>
<g id="TaPIN40"><text dy=".35em" transform="rotate(201.25) translate(337 0) scale(.83 1)">TaPIN40</text></g>
<g id="ZmPIN3a"><text dy=".35em" transform="rotate(204.17) translate(337 0) scale(.83 1)">ZmPIN3a</text></g>
<g id="OsPIN3a"><text dy=".35em" transform="rotate(207.08) translate(337 0) scale(.83 1)">OsPIN3a</text></g>
<g id="TaPIN12"><text dy=".35em" transform="rotate(210) translate(337 0) scale(.83 1)">TaPIN12</text></g>
<g id="TaPIN8"><text dy=".35em" transform="rotate(212.92) translate(337 0) scale(.83 1)">TaPIN8</text></g>
<g id="TaPIN4"><text dy=".35em" transform="rotate(215.83) translate(337 0) scale(.83 1)">TaPIN4</text></g>
<g id="ZmPIN3b"><text dy=".35em" transform="rotate(218.75) translate(337 0) scale(.83 1)">ZmPIN3b</text></g>
<g id="OsPIN3b"><text dy=".35em" transform="rotate(221.67) translate(337 0) scale(.83 1)">OsPIN3b</text></g>
<g id="TaPIN1"><text dy=".35em" transform="rotate(224.58) translate(337 0) scale(.83 1)">TaPIN1</text></g>
<g id="TaPIN3"><text dy=".35em" transform="rotate(227.5) translate(337 0) scale(.83 1)">TaPIN3</text></g>
<g id="TaPIN2"><text dy=".35em" transform="rotate(230.42) translate(337 0) scale(.83 1)">TaPIN2</text></g>
<g id="GmPIN3b"><text dy=".35em" transform="rotate(233.33) translate(337 0) scale(.83 1)">GmPIN3b</text></g>
<g id="GmPIN3a"><text dy=".35em" transform="rotate(236.25) translate(337 0) scale(.83 1)">GmPIN3a</text></g>
<g id="GmPIN3d"><text dy=".35em" transform="rotate(239.17) translate(337 0) scale(.83 1)">GmPIN3d</text></g>
<g id="GmPIN3c"><text class="l" dy=".35em" transform="rotate(242.08) translate(337 0) rotate(180) scale(.83 1)">GmPIN3c</text></g>
<g id="AtPIN4"><text class="l" dy=".35em" transform="rotate(245) translate(337 0) rotate(180) scale(.83 1)">AtPIN4</text></g>
<g id="AtPIN7"><text class="l" dy=".35em" transform="rotate(247.92) translate(337 0) rotate(180) scale(.83 1)">AtPIN7</text></g>
<g id="AtPIN3"><text class="l" dy=".35em" transform="rotate(250.83) translate(337 0) rotate(180) scale(.83 1)">AtPIN3</text></g>
<g id="NtPIN4"><text class="l" dy=".35em" transform="rotate(253.75) translate(337 0) rotate(180) scale(.83 1)">NtPIN4</text></g>
<g id="NtPIN3b"><text class="l" dy=".35em" transform="rotate(256.67) translate(337 0) rotate(180) scale(.83 1)">NtPIN3b</text></g>
<g id="NtPIN3a"><text class="l" dy=".35em" transform="rotate(259.58) translate(337 0) rotate(180) scale(.83 1)">NtPIN3a</text></g>
<g id="NtPIN1g"><text class="l" dy=".35em" transform="rotate(262.5) translate(337 0) rotate(180) scale(.83 1)">NtPIN1g</text></g>
<g id="GmPIN1e"><text class="l" dy=".35em" transform="rotate(265.42) translate(337 0) rotate(180) scale(.83 1)">GmPIN1e</text></g>
<g id="GmPIN1d"><text class="l" dy=".35em" transform="rotate(268.33) translate(337 0) rotate(180) scale(.83 1)">GmPIN1d</text></g>
<g id="NtPIN1d"><text class="l" dy=".35em" transform="rotate(271.25) translate(337 0) rotate(180) scale(.83 1)">NtPIN1d</text></g>
<g id="NtPIN1c"><text class="l" dy=".35em" transform="rotate(274.17) translate(337 0) rotate(180) scale(.83 1)">NtPIN1c</text></g>
<g id="NtPIN1f"><text class="l" dy=".35em" transform="rotate(277.08) translate(337 0) rotate(180) scale(.83 1)">NtPIN1f</text></g>
<g id="NtPIN1e"><text class="l" dy=".35em" transform="rotate(280) translate(337 0) rotate(180) scale(.83 1)">NtPIN1e</text></g>
<g id="OsPIN1d"><text class="l" dy=".35em" transform="rotate(282.92) translate(337 0) rotate(180) scale(.83 1)">OsPIN1d</text></g>
<g id="OsPIN1c"><text class="l" dy=".35em" transform="rotate(285.83) translate(337 0) rotate(180) scale(.83 1)">OsPIN1c</text></g>
<g id="ZmPIN1d"><text class="l" dy=".35em" transform="rotate(288.75) translate(337 0) rotate(180) scale(.83 1)">ZmPIN1d</text></g>
<g id="TaPIN17"><text class="l" dy=".35em" transform="rotate(291.67) translate(337 0) rotate(180) scale(.83 1)">TaPIN17</text></g>
<g id="TaPIN18"><text class="l" dy=".35em" transform="rotate(294.58) translate(337 0) rotate(180) scale(.83 1)">TaPIN18</text></g>
<g id="TaPIN16"><text class="l" dy=".35em" transform="rotate(297.5) translate(337 0) rotate(180) scale(.83 1)">TaPIN16</text></g>
<g id="AtPIN1"><text class="l" dy=".35em" transform="rotate(300.42) translate(337 0) rotate(180) scale(.83 1)">AtPIN1</text></g>
<g id="NtPIN1b"><text class="l" dy=".35em" transform="rotate(303.33) translate(337 0) rotate(180) scale(.83 1)">NtPIN1b</text></g>
<g id="NtPIN1a"><text class="l" dy=".35em" transform="rotate(306.25) translate(337 0) rotate(180) scale(.83 1)">NtPIN1a</text></g>
<g id="GmPIN1a"><text class="l" dy=".35em" transform="rotate(309.17) translate(337 0) rotate(180) scale(.83 1)">GmPIN1a</text></g>
<g id="GmPIN1c"><text class="l" dy=".35em" transform="rotate(312.08) translate(337 0) rotate(180) scale(.83 1)">GmPIN1c</text></g>
<g id="GmPIN1b"><text class="l" dy=".35em" transform="rotate(315) translate(337 0) rotate(180) scale(.83 1)">GmPIN1b</text></g>
<g id="ZmPIN1c"><text class="l" dy=".35em" transform="rotate(317.92) translate(337 0) rotate(180) scale(.83 1)">ZmPIN1c</text></g>
<g id="OsPIN1b"><text class="l" dy=".35em" transform="rotate(320.83) translate(337 0) rotate(180) scale(.83 1)">OsPIN1b</text></g>
<g id="TaPIN32"><text class="l" dy=".35em" transform="rotate(323.75) translate(337 0) rotate(180) scale(.83 1)">TaPIN32</text></g>
<g id="TaPIN31"><text class="l" dy=".35em" transform="rotate(326.67) translate(337 0) rotate(180) scale(.83 1)">TaPIN31</text></g>
<g id="TaPIN30"><text class="l" dy=".35em" transform="rotate(329.58) translate(337 0) rotate(180) scale(.83 1)">TaPIN30</text></g>
<g id="OsPIN1a"><text class="l" dy=".35em" transform="rotate(332.5) translate(337 0) rotate(180) scale(.83 1)">OsPIN1a</text></g>
<g id="ZmPIN1b"><text class="l" dy=".35em" transform="rotate(335.42) translate(337 0) rotate(180) scale(.83 1)">ZmPIN1b</text></g>
<g id="ZmPIN1a"><text class="l" dy=".35em" transform="rotate(338.33) translate(337 0) rotate(180) scale(.83 1)">ZmPIN1a</text></g>
<g id="TaPIN41"><text class="l" dy=".35em" transform="rotate(341.25) translate(337 0) rotate(180) scale(.83 1)">TaPIN41</text></g>
<g id="TaPIN36"><text class="l" dy=".35em" transform="rotate(344.17) translate(337 0) rotate(180) scale(.83 1)">TaPIN36</text></g>
<g id="TaPIN33"><text class="l" dy=".35em" transform="rotate(347.08) translate(337 0) rotate(180) scale(.83 1)">TaPIN33</text></g>
</g>
</g>
<g id="scale">
<text x="27" y="823" style="font-family:'Liberation Sans',Arial,sans-serif;font-weight:bold;font-size:14.5px;fill:#444">Tree scale: 0.1</text>
<path d="M139 818H193M139 814V822M193 814V822M166 816.5V819.5" stroke="#444" stroke-width="1.3" fill="none"/>
</g>
</svg>
